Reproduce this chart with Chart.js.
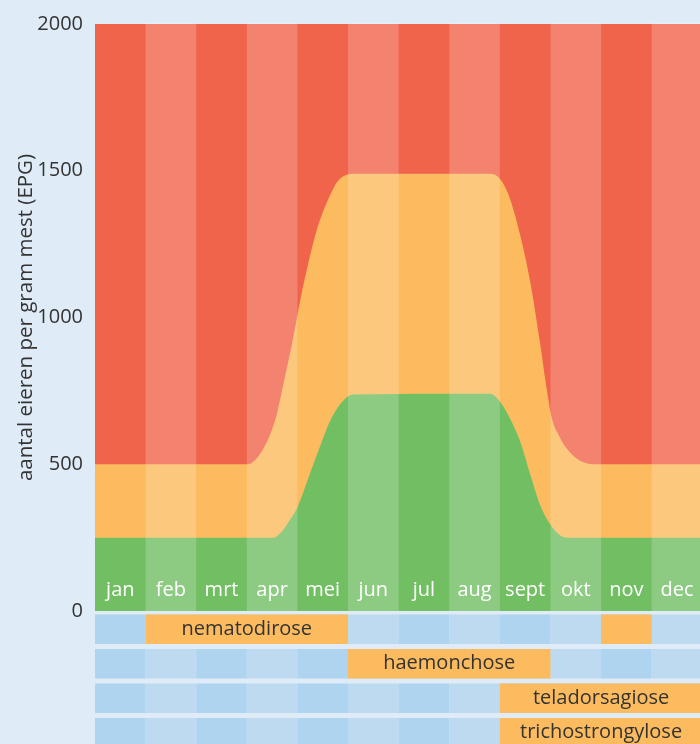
<!DOCTYPE html>
<html><head><meta charset="utf-8">
<script src="https://cdn.jsdelivr.net/npm/chart.js@4/dist/chart.umd.min.js"></script>
<style>
html,body{margin:0;padding:0;background:#DFEBF7;overflow:hidden;width:700px;height:744px;}
#main{position:absolute;left:0;top:0;}
#rows{position:absolute;left:0;top:612px;}
</style></head><body>
<canvas id="main" width="703" height="635"></canvas>
<canvas id="rows" width="703" height="138"></canvas>
<script>
const months = ['jan','feb','mrt','apr','mei','jun','jul','aug','sept','okt','nov','dec'];
const yTicks = [0, 500, 1000, 1500, 2000];
const yTitle = 'aantal eieren per gram mest (EPG)';

// EPG thresholds through the year (x in months, 0 = start jan)
const redX = [0, 12];
const redY = [2000, 2000];
const orangeX = [0, 3.02, 3.16, 3.33, 3.46, 3.59, 3.69, 3.79, 3.89, 4.05, 4.19, 4.39, 4.59, 4.84, 5.18,
                 7.81, 8.0, 8.2, 8.4, 8.6, 8.79, 8.93, 9.03, 9.16, 9.32, 9.52, 9.68, 9.82, 12];
const orangeY = [500, 500, 514, 554, 601, 669, 747, 827, 908, 1054, 1167, 1303, 1395, 1473, 1490,
                 1490, 1473, 1405, 1282, 1122, 918, 752, 655, 600, 554, 520, 505, 500, 500];
const greenX = [0, 3.52, 3.69, 3.85, 3.99, 4.12, 4.25, 4.38, 4.48, 4.64, 4.84, 5.1,
                7.81, 8.0, 8.2, 8.4, 8.6, 8.79, 8.99, 9.19, 9.35, 12];
const greenY = [250, 250, 270, 310, 349, 406, 469, 531, 577, 646, 704, 738,
                740, 714, 656, 578, 466, 364, 296, 258, 250, 250];

const diseases = ['nematodirose', 'haemonchose', 'teladorsagiose', 'trichostrongylose'];
const periodStart = [1, 5, 8, 8];
const periodEnd = [5, 9, 12, 12];
const extraStart = [10, null, null, null];
const extraEnd = [11, null, null, null];

Chart.defaults.font.family = "'Open Sans', sans-serif";

const pts = (xs, ys) => xs.map((x, i) => ({x, y: ys[i]}));
const area = (label, xs, ys, color) => ({
  label, data: pts(xs, ys), backgroundColor: color, borderWidth: 0,
  pointRadius: 0, fill: 'origin', cubicInterpolationMode: 'monotone'
});

const stripes = {
  id: 'stripes',
  afterDatasetsDraw(chart) {
    const {ctx, chartArea: {top, bottom}, scales: {x}} = chart;
    ctx.save();
    ctx.fillStyle = 'rgba(255,255,255,0.2)';
    months.forEach((m, i) => {
      if (i % 2 === 1) {
        const l = x.getPixelForValue(i), r = x.getPixelForValue(i + 1);
        ctx.fillRect(l, top - 1, r - l, bottom - top + 1);
      }
    });
    ctx.restore();
  }
};

new Chart(document.getElementById('main'), {
  type: 'line',
  data: {datasets: [
    area('laag', greenX, greenY, '#72BF63'),
    area('matig', orangeX, orangeY, '#FBBB5E'),
    area('hoog', redX, redY, '#F0644C')
  ]},
  options: {
    responsive: false, animation: false, devicePixelRatio: 1,
    layout: {padding: {top: 11, bottom: 19, left: 0, right: 0.7}},
    plugins: {legend: {display: false}, tooltip: {enabled: false}},
    scales: {
      x: {
        type: 'linear', min: 0, max: 12,
        grid: {display: false, drawTicks: false}, border: {display: false},
        afterBuildTicks: s => { s.ticks = months.map((m, i) => ({value: i + 0.5})); },
        afterFit: s => { s.height = 0; },
        ticks: {z: 1, mirror: true, color: '#ffffff', padding: 9, font: {size: 20}, maxRotation: 0, autoSkip: false,
                callback: (v, i) => months[i]}
      },
      y: {
        min: 0, max: 2000,
        grid: {display: false, drawTicks: false}, border: {display: false},
        afterBuildTicks: s => { s.ticks = yTicks.map(v => ({value: v})); },
        afterFit: s => { s.width = 95; },
        ticks: {color: '#333333', padding: 12, font: {size: 20}, callback: v => String(v)},
        title: {display: true, text: yTitle, color: '#333333', font: {size: 20.5}, padding: {top: 14, bottom: 0}}
      }
    }
  },
  plugins: [stripes]
});

const rowDeco = {
  id: 'rowDeco',
  beforeDatasetsDraw(chart) {
    const {ctx, scales: {x}} = chart;
    const meta = chart.getDatasetMeta(0);
    ctx.save();
    meta.data.forEach(el => {
      const t = el.y - el.height / 2;
      months.forEach((m, i) => {
        const l = x.getPixelForValue(i), r = x.getPixelForValue(i + 1);
        ctx.fillStyle = i % 2 === 0 ? '#AED4F0' : '#BDDAF1';
        ctx.fillRect(l, t, r - l, el.height);
      });
    });
    ctx.restore();
  },
  afterDatasetsDraw(chart) {
    const {ctx} = chart;
    const meta = chart.getDatasetMeta(0);
    ctx.save();
    ctx.fillStyle = '#333333';
    ctx.font = "20px 'Open Sans', sans-serif";
    ctx.textAlign = 'center';
    ctx.textBaseline = 'middle';
    meta.data.forEach((el, i) => {
      ctx.fillText(diseases[i], (el.x + el.base) / 2, el.y);
    });
    ctx.restore();
  }
};

const barSet = (label, s, e) => ({
  label, data: diseases.map((d, i) => s[i] == null ? null : [s[i], e[i]]),
  backgroundColor: '#FBBB5E', borderWidth: 0, grouped: false,
  barPercentage: 0.855, categoryPercentage: 1
});

new Chart(document.getElementById('rows'), {
  type: 'bar',
  data: {labels: diseases, datasets: [
    barSet('periode', periodStart, periodEnd),
    barSet('tweede periode', extraStart, extraEnd)
  ]},
  options: {
    indexAxis: 'y', responsive: false, animation: false, devicePixelRatio: 1,
    layout: {padding: {left: 95, right: 0.7, top: 0, bottom: 0}},
    plugins: {legend: {display: false}, tooltip: {enabled: false}},
    scales: {
      x: {type: 'linear', min: 0, max: 12, display: false},
      y: {type: 'category', display: false}
    }
  },
  plugins: [rowDeco]
});
</script>
</body></html>
